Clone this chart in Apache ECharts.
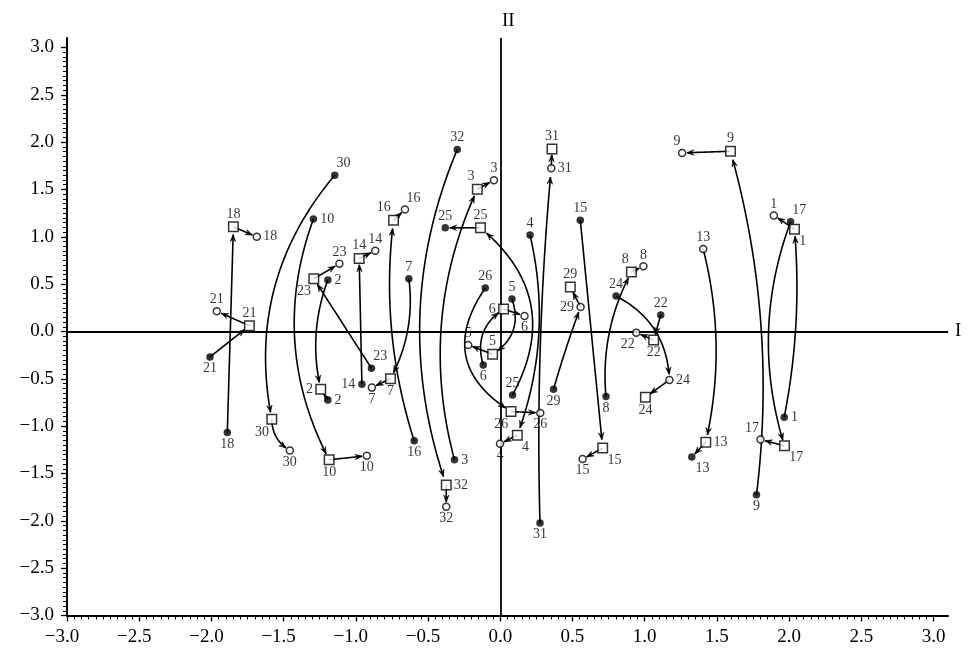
<!DOCTYPE html>
<html>
<head>
<meta charset="utf-8">
<script src="https://cdn.jsdelivr.net/npm/echarts@6/dist/echarts.min.js"></script>
<style>
  html, body { margin: 0; padding: 0; background: #fff; }
  #chart { width: 972px; height: 651px; }
</style>
</head>
<body>
<div id="chart"></div>
<script>
// Filled circles: [id, I, II]
const dots = [
  ['1', 1.966, -0.905], ['2', -1.194, 0.543], ['2b', -1.194, -0.723],
  ['3', -0.317, -1.356], ['4', 0.206, 1.018], ['5', 0.081, 0.343],
  ['6', -0.118, -0.353], ['7', -0.633, 0.557], ['8', 0.732, -0.688],
  ['9', 1.774, -1.725], ['10', -1.294, 1.187], ['13', 1.326, -1.327],
  ['14', -0.958, -0.557], ['15', 0.554, 1.176], ['16', -0.596, -1.155],
  ['17', 2.010, 1.158], ['18', -1.890, -1.068], ['21', -2.010, -0.269],
  ['22', 1.111, 0.174], ['23', -0.892, -0.388], ['24', 0.802, 0.374],
  ['25', 0.085, -0.670], ['25b', -0.381, 1.095], ['26', -0.104, 0.459],
  ['29', 0.369, -0.610], ['30', -1.146, 1.651], ['31', 0.275, -2.023],
  ['32', -0.298, 1.922]
];

// Squares: [id, I, II]
const boxes = [
  ['1', 2.037, 1.081], ['2', -1.243, -0.610], ['3', -0.159, 1.503],
  ['4', 0.118, -1.095], ['5', -0.053, -0.241], ['6', 0.023, 0.237],
  ['7', -0.760, -0.498], ['8', 0.908, 0.628], ['9', 1.594, 1.904],
  ['10', -1.185, -1.355], ['13', 1.423, -1.169], ['14', -0.977, 0.772],
  ['15', 0.709, -1.232], ['16', -0.739, 1.176], ['17', 1.968, -1.208],
  ['18', -1.848, 1.105], ['21', -1.737, 0.061], ['22', 1.062, -0.090],
  ['23', -1.291, 0.557], ['24', 1.005, -0.694], ['25', -0.137, 1.095],
  ['26', 0.074, -0.846], ['29', 0.485, 0.469], ['30', -1.582, -0.926],
  ['31', 0.358, 1.928], ['32', -0.374, -1.622]
];

// Open circles: [id, I, II]
const rings = [
  ['1', 1.894, 1.226], ['3', -0.044, 1.598], ['4', -0.002, -1.187],
  ['5', -0.222, -0.142], ['6', 0.168, 0.164], ['7', -0.889, -0.593],
  ['8', 0.991, 0.688], ['9', 1.259, 1.886], ['10', -0.924, -1.313],
  ['13', 1.405, 0.870], ['14', -0.866, 0.852], ['15', 0.570, -1.348],
  ['16', -0.660, 1.289], ['17', 1.802, -1.141], ['18', -1.686, 1.000],
  ['21', -1.963, 0.213], ['22', 0.942, -0.013], ['23', -1.114, 0.715],
  ['24', 1.171, -0.512], ['26', 0.277, -0.860], ['29', 0.556, 0.258],
  ['30', -1.457, -1.257], ['31', 0.353, 1.725], ['32', -0.374, -1.851]
];

// Moves between marks: [from, to, curveness]  (d = filled, b = square, r = open)
const moves = [
  ['d1', 'b1', -0.07], ['b1', 'r1', 0],
  ['d2', 'b2', -0.15], ['d2b', 'b2', 0],
  ['d3', 'b3', 0.18], ['b3', 'r3', 0],
  ['d4', 'b4', 0.15], ['b4', 'r4', 0],
  ['d5', 'b5', 0.39], ['b5', 'r5', 0],
  ['d6', 'b6', 0.37], ['b6', 'r6', 0],
  ['d7', 'b7', 0.16], ['b7', 'r7', 0],
  ['d8', 'b8', 0.15], ['b8', 'r8', 0],
  ['d9', 'b9', -0.10], ['b9', 'r9', 0],
  ['d10', 'b10', -0.22], ['b10', 'r10', 0],
  ['r13', 'b13', 0.12], ['b13', 'd13', 0],
  ['d14', 'b14', 0], ['b14', 'r14', 0],
  ['d15', 'b15', 0], ['b15', 'r15', 0],
  ['d16', 'b16', 0.11], ['b16', 'r16', 0],
  ['d17', 'b17', -0.17], ['b17', 'r17', 0],
  ['d18', 'b18', 0], ['b18', 'r18', 0],
  ['d21', 'b21', 0], ['b21', 'r21', 0],
  ['d22', 'b22', 0], ['b22', 'r22', 0],
  ['d23', 'b23', 0], ['b23', 'r23', 0],
  ['d24', 'r24', 0.29], ['r24', 'b24', 0],
  ['d25', 'b25', -0.41], ['b25', 'd25b', 0],
  ['d26', 'b26', -0.52], ['b26', 'r26', 0],
  ['d29', 'r29', 0.02], ['r29', 'b29', 0],
  ['d30', 'b30', -0.24], ['b30', 'r30', -0.28],
  ['d31', 'r31', 0.03], ['r31', 'b31', 0],
  ['d32', 'b32', -0.19], ['b32', 'r32', 0]
];

// Tick labels on both axes
const majorTicks = [-3.0, -2.5, -2.0, -1.5, -1.0, -0.5, 0.0, 0.5, 1.0, 1.5, 2.0, 2.5, 3.0];
const axisNames = ['I', 'II'];

// Which side of each mark its number sits on
const dotSide = {
  '1': 'e', '2': 'e', '2b': 'e', '3': 'e', '4': 'n', '5': 'n', '6': 's', '7': 'n',
  '8': 's', '9': 's', '10': 'e', '13': 'se', '14': 'w', '15': 'n', '16': 's',
  '17': 'ne', '18': 's', '21': 's', '22': 'n', '23': 'ne', '24': 'n', '25': 'n',
  '25b': 'n', '26': 'n', '29': 's', '30': 'ne', '31': 's', '32': 'n'
};
const boxSide = {
  '1': 'se', '2': 'w', '3': 'nw', '4': 'se', '5': 'n', '6': 'w', '7': 's', '8': 'nw',
  '9': 'n', '10': 's', '13': 'e', '14': 'n', '15': 'se', '16': 'nw', '17': 'se',
  '18': 'n', '21': 'n', '22': 's', '23': 'sw', '24': 's', '25': 'n', '26': 'sw',
  '29': 'n', '30': 'sw', '31': 'n', '32': 'e'
};
const ringSide = {
  '1': 'n', '3': 'n', '4': 's', '5': 'n', '6': 's', '7': 's', '8': 'n', '9': 'nw',
  '10': 's', '13': 'n', '14': 'n', '15': 's', '16': 'ne', '17': 'nw', '18': 'e',
  '21': 'n', '22': 'sw', '23': 'n', '24': 'e', '26': 's', '29': 'w', '30': 's',
  '31': 'e', '32': 's'
};

const SERIF = "'Liberation Serif', 'DejaVu Serif', serif";
const DOT = 7.5, BOX = 9.5, RING = 7;

function sideStyle(side, h) {
  switch (side) {
    case 'n':  return { align: 'center', verticalAlign: 'bottom', offset: [0, -(h + 1)] };
    case 's':  return { align: 'center', verticalAlign: 'top', offset: [0, h + 1] };
    case 'e':  return { align: 'left', verticalAlign: 'middle', offset: [h + 3, 0] };
    case 'w':  return { align: 'right', verticalAlign: 'middle', offset: [-(h + 3), 0] };
    case 'ne': return { align: 'left', verticalAlign: 'bottom', offset: [h - 2, -(h + 1)] };
    case 'nw': return { align: 'right', verticalAlign: 'bottom', offset: [-(h - 2), -(h + 1)] };
    case 'se': return { align: 'left', verticalAlign: 'top', offset: [h, h] };
    default:   return { align: 'right', verticalAlign: 'top', offset: [-(h - 2), h + 1] };
  }
}

function markData(list, sides, size) {
  return list.map(([id, x, y]) => ({
    value: [x, y],
    label: Object.assign({
      show: true,
      position: 'inside',
      formatter: id.replace(/b$/, ''),
      color: '#000',
      fontFamily: SERIF,
      fontSize: 14
    }, sideStyle(sides[id], size / 2))
  }));
}

// Endpoint lookup: position plus how far the arrow stops short of the mark
const ends = {};
dots.forEach(([id, x, y]) => { ends['d' + id] = [x, y, DOT / 2 + 0.5]; });
boxes.forEach(([id, x, y]) => { ends['b' + id] = [x, y, BOX / 2 + 1]; });
rings.forEach(([id, x, y]) => { ends['r' + id] = [x, y, RING / 2 + 1]; });

const moveData = moves.map(([f, t, c]) => [ends[f][0], ends[f][1], ends[t][0], ends[t][1], c, ends[t][2]]);

function renderMove(params, api) {
  const a = api.coord([api.value(0), api.value(1)]);
  const b = api.coord([api.value(2), api.value(3)]);
  const c = api.value(4), trim = api.value(5);
  const dx = b[0] - a[0], dy = b[1] - a[1];
  const cp = [(a[0] + b[0]) / 2 + dy * c, (a[1] + b[1]) / 2 - dx * c];
  const N = 80, pts = [];
  for (let i = 0; i <= N; i++) {
    const t = i / N, u = 1 - t;
    pts.push([u * u * a[0] + 2 * u * t * cp[0] + t * t * b[0],
              u * u * a[1] + 2 * u * t * cp[1] + t * t * b[1]]);
  }
  let end = N;
  while (end > 1 && Math.hypot(pts[end][0] - b[0], pts[end][1] - b[1]) < trim) end--;
  const line = pts.slice(0, end + 1);
  const tip = line[line.length - 1];
  const prev = line[Math.max(0, line.length - 4)];
  let ux = tip[0] - prev[0], uy = tip[1] - prev[1];
  const L = Math.hypot(ux, uy) || 1; ux /= L; uy /= L;
  const len = 7, w = 2.7;
  const head = [
    tip,
    [tip[0] - len * ux + w * uy, tip[1] - len * uy - w * ux],
    [tip[0] - 0.6 * len * ux, tip[1] - 0.6 * len * uy],
    [tip[0] - len * ux - w * uy, tip[1] - len * uy + w * ux]
  ];
  return {
    type: 'group',
    children: [
      { type: 'polyline', shape: { points: line }, style: { stroke: '#000', lineWidth: 1.6, fill: null } },
      { type: 'polygon', shape: { points: head }, style: { fill: '#000', stroke: '#000', lineWidth: 0.6 } }
    ]
  };
}

const minorTicks = [];
for (let i = 0; i <= 120; i++) minorTicks.push(Math.round((-3 + i * 0.05) * 100) / 100);

const fmt = v => (v < 0 ? '\u2212' : '') + Math.abs(v).toFixed(1);

function makeAxes(isX) {
  const base = {
    type: 'value', min: -3, max: 3.1,
    splitLine: { show: false },
    position: isX ? 'bottom' : 'left'
  };
  const major = Object.assign({}, base, {
    interval: 0.5,
    axisLine: { show: true, onZero: false, lineStyle: { color: '#000', width: 2 } },
    axisTick: { show: true, inside: false, length: 6, customValues: majorTicks, lineStyle: { color: '#000', width: 1.3 } },
    axisLabel: isX ? {
      customValues: majorTicks,
      margin: 12, color: '#000', fontFamily: SERIF, fontSize: 19,
      formatter: v => v < 0 ? '{n|' + fmt(v) + '}' : fmt(v),
      rich: { n: { padding: [0, 10, 0, 0], fontFamily: SERIF, fontSize: 19, color: '#000' } }
    } : {
      customValues: majorTicks,
      margin: 13, color: '#000', fontFamily: SERIF, fontSize: 19,
      formatter: fmt
    }
  });
  const minor = Object.assign({}, base, {
    interval: 0.05,
    axisLine: { show: false, onZero: false },
    axisTick: { show: true, inside: false, length: 4, customValues: minorTicks, lineStyle: { color: '#000', width: 1 } },
    axisLabel: { show: false }
  });
  return [major, minor];
}

const chart = echarts.init(document.getElementById('chart'), null, { renderer: 'canvas' });
chart.setOption({
  backgroundColor: '#fff',
  animation: false,
  grid: { left: 67, right: 24, top: 38, bottom: 35.5, containLabel: false },
  xAxis: makeAxes(true),
  yAxis: makeAxes(false),
  series: [
    {
      type: 'custom',
      renderItem: renderMove,
      data: moveData,
      encode: { x: [0, 2], y: [1, 3] },
      silent: true,
      z: 2
    },
    {
      type: 'scatter',
      symbol: 'circle',
      symbolSize: DOT,
      itemStyle: { color: '#000' },
      data: markData(dots, dotSide, DOT),
      silent: true,
      z: 4,
      markLine: {
        silent: true,
        symbol: 'none',
        lineStyle: { color: '#000', width: 1.8, type: 'solid' },
        label: { show: true, position: 'end', color: '#000', fontFamily: SERIF, fontSize: 19, distance: 7 },
        data: [
          { xAxis: 0, label: { formatter: axisNames[1], offset: [8, 0] } },
          { yAxis: 0, label: { formatter: axisNames[0] } }
        ]
      }
    },
    {
      type: 'scatter',
      symbol: 'rect',
      symbolSize: BOX,
      itemStyle: { color: '#fff', borderColor: '#000', borderWidth: 1.5 },
      data: markData(boxes, boxSide, BOX),
      silent: true,
      z: 5
    },
    {
      type: 'scatter',
      symbol: 'circle',
      symbolSize: RING,
      itemStyle: { color: '#fff', borderColor: '#000', borderWidth: 1.5 },
      data: markData(rings, ringSide, RING),
      silent: true,
      z: 5
    }
  ]
});
</script>
</body>
</html>
